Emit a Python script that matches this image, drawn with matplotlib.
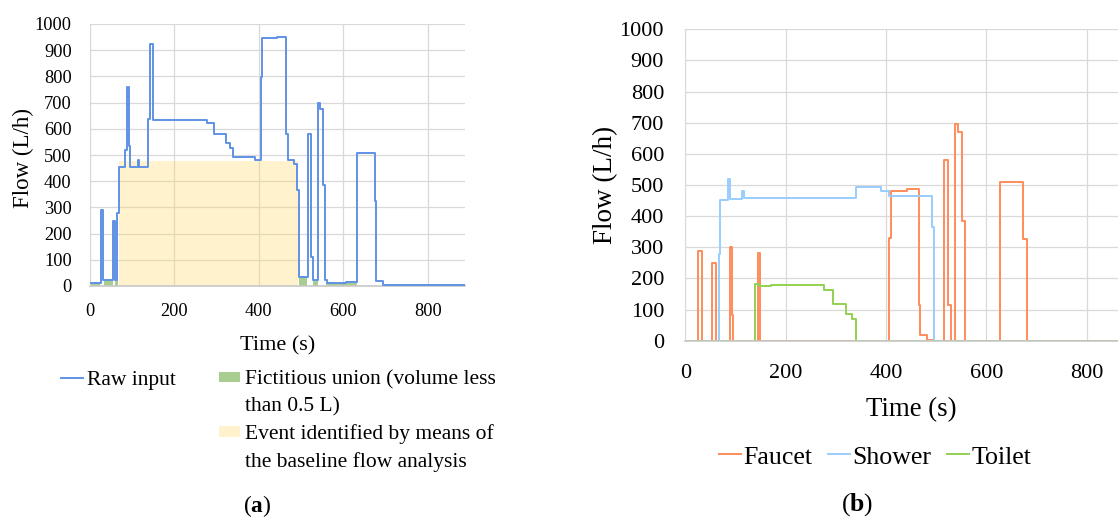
import matplotlib.pyplot as plt
from matplotlib.patches import Patch

plt.rcParams['font.family'] = ['Liberation Serif', 'DejaVu Serif']
plt.rcParams['mathtext.fontset'] = 'custom'
plt.rcParams['mathtext.rm'] = 'Liberation Serif'
plt.rcParams['mathtext.bf'] = 'Liberation Serif:bold'

# (a) raw input, step values (time s -> flow L/h)
raw_time = [0, 26, 30, 54, 60, 65, 69, 84, 88, 93, 95, 113, 117, 138, 143, 148,
            276, 294, 321, 332, 338, 390, 405, 408, 443, 465, 469, 482, 491, 495,
            516, 523, 527, 540, 545, 552, 556, 561, 606, 632, 674, 678, 694, 888]
raw_flow = [10, 290, 23, 248, 23, 280, 453, 519, 758, 534, 455, 481, 455, 638, 924, 635,
            621, 580, 545, 528, 494, 481, 796, 945, 951, 579, 481, 464, 366, 33,
            579, 112, 23, 697, 674, 385, 23, 10, 14, 509, 324, 19, 4, 4]

# fictitious unions (volume < 0.5 L)
union_start = [0, 32, 60, 496, 527, 560, 606]
union_end = [24, 54, 67, 514, 540, 606, 632]
union_flow = [10, 23, 23, 33, 23, 10, 14]

# event from baseline flow analysis
event_start = [68]
event_end = [493]
event_flow = [477]

# (b) disaggregated uses
faucet_time = [0, 26, 32.5, 53, 61, 88.5, 93, 96, 144.5, 149.5, 405.6, 409.5, 441.5,
               465.3, 468, 482.6, 493, 515.2, 523.2, 530.5, 538, 544.6, 551, 558,
               628, 674, 680.7, 900]
faucet_flow = [0, 289, 0, 248, 0, 302, 82, 0, 282, 0, 331, 481, 486,
               115, 18, 2, 0, 580, 115, 0, 697, 671, 385, 0,
               509, 326, 0, 0]
shower_time = [0, 66.5, 69.8, 85.8, 89.8, 113.7, 117, 339.7, 390.2, 405.6, 491.3, 496.5, 900]
shower_flow = [0, 279, 452, 519, 454, 482, 457, 495, 482, 466, 366, 0, 0]
toilet_time = [0, 139, 147, 171, 277, 294.5, 319.8, 333, 339.7, 900]
toilet_flow = [0, 181, 176, 180, 162, 118, 87, 70, 0, 0]

W, H = 1118, 517
fig = plt.figure(figsize=(W / 100, H / 100), dpi=100)
ax1 = fig.add_axes([90 / W, 1 - 286 / H, 375 / W, 262 / H])
ax2 = fig.add_axes([685.3 / W, 1 - 340.7 / H, 451.4 / W, 311.4 / H])


def style(ax, xmax, tick_fs, xpad, ypad):
    ax.set_xlim(0, xmax)
    ax.set_ylim(0, 1000)
    ax.set_xticks(range(0, 801, 200))
    ax.set_yticks(range(0, 1001, 100))
    ax.grid(True, color='#d9d9d9', lw=0.9)
    ax.set_axisbelow(True)
    for s in ['top', 'right']:
        ax.spines[s].set_visible(False)
    ax.spines['left'].set_color('#d9d9d9')
    ax.spines['bottom'].set_color('#c8c8c8')
    ax.spines['bottom'].set_linewidth(1.2)
    ax.tick_params(length=0, labelsize=tick_fs)
    ax.tick_params(axis='x', pad=xpad)
    ax.tick_params(axis='y', pad=ypad)


# ---- panel (a)
style(ax1, 888, 13.2, 12.5, 13.2)
ev = ax1.bar(event_start, event_flow, width=[e - s for s, e in zip(event_start, event_end)],
             align='edge', color='#ffd966', alpha=0.33, lw=0, zorder=1.5)
un = ax1.bar(union_start, union_flow, width=[e - s for s, e in zip(union_start, union_end)],
             align='edge', color='#70ad47', alpha=0.6, lw=0, zorder=1.6)
raw, = ax1.step(raw_time, raw_flow, where='post', color='#5f92e6', lw=1.4, zorder=3)
ax1.set_xlabel('Time (s)', fontsize=16)
ax1.set_ylabel('Flow (L/h)', fontsize=16.5)
ax1.xaxis.set_label_coords(0.5, -0.191)
ax1.yaxis.set_label_coords(-0.15, 0.49)

blank = Patch(facecolor='none', edgecolor='none')
ax1.legend([raw, blank, blank, blank, un[0], blank, ev[0], blank],
           ['Raw input', '', '', '', 'Fictitious union (volume less', 'than 0.5 L)',
            'Event identified by means of', 'the baseline flow analysis'],
           ncol=2, loc='upper left', bbox_to_anchor=(61 / W, 1 - 370.5 / H),
           bbox_transform=fig.transFigure, frameon=False, fontsize=15.5,
           borderaxespad=0, borderpad=0, handlelength=1.0, handleheight=0.4,
           handletextpad=0.2, columnspacing=2.0, labelspacing=0.36)
fig.text(257 / W, 1 - 506 / H, r'$(\mathbf{a})$', ha='center', va='center', fontsize=16.8)

# ---- panel (b)
style(ax2, 900, 16, 16.5, 15.3)
fa, = ax2.step(faucet_time, faucet_flow, where='post', color='#ff8c5a', lw=1.4, label='Faucet')
sh, = ax2.step(shower_time, shower_flow, where='post', color='#99ccff', lw=1.4, label='Shower')
to, = ax2.step(toilet_time, toilet_flow, where='post', color='#92d050', lw=1.4, label='Toilet')
ax2.set_xlabel('Time (s)', fontsize=19.4)
ax2.set_ylabel('Flow (L/h)', fontsize=19.5)
ax2.xaxis.set_label_coords(0.5, -0.181)
ax2.yaxis.set_label_coords(-0.149, 0.5)
ax2.legend(handles=[fa, sh, to], ncol=3, loc='center left',
           bbox_to_anchor=(719 / W, 1 - 457 / H), bbox_transform=fig.transFigure,
           frameon=False, fontsize=18.6, borderaxespad=0, borderpad=0,
           handlelength=0.85, handletextpad=0.08, columnspacing=0.62)
fig.text(857 / W, 1 - 505 / H, r'$(\mathbf{b})$', ha='center', va='center', fontsize=18.5)

fig.savefig('out.png', dpi=100)
